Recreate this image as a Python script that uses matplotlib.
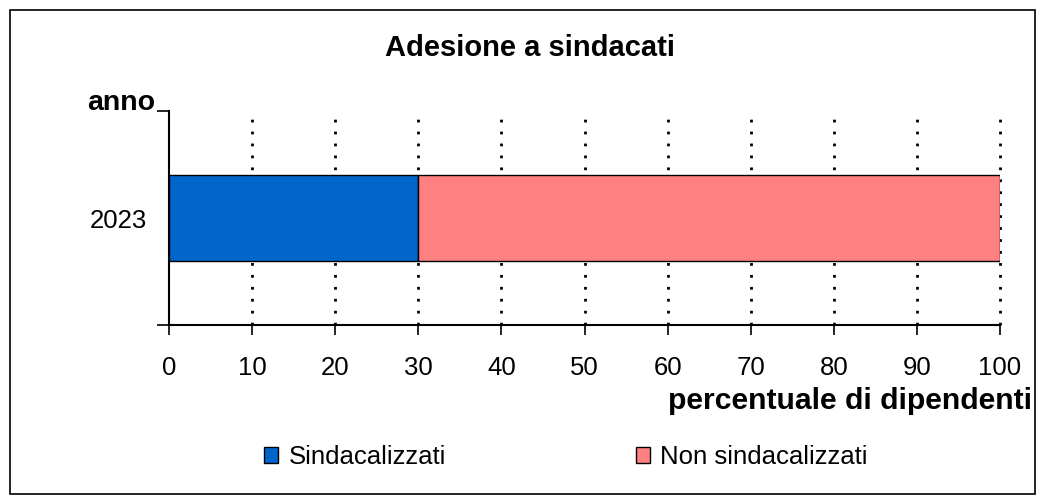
import matplotlib.pyplot as plt
from matplotlib.patches import Rectangle

# data
anni = ["2023"]
sindacalizzati = [30]
non_sindacalizzati = [70]
serie = ["Sindacalizzati", "Non sindacalizzati"]
colori = ["#0066CC", "#FF8080"]
xticks = list(range(0, 101, 10))

plt.rcParams['font.family'] = ['Liberation Sans', 'DejaVu Sans']

fig = plt.figure(figsize=(10.45, 5.04), dpi=100)
ax = fig.add_axes([169 / 1045, 1 - 325 / 504, 831 / 1045, 214 / 504])

# figure frame
fig.patches.append(Rectangle((10 / 1045, 10 / 504), 1025 / 1045, 484 / 504,
                             transform=fig.transFigure, fill=False,
                             edgecolor="black", linewidth=1.2))

ypos = list(range(len(anni)))
ax.barh(ypos, sindacalizzati, height=0.4, color=colori[0],
        edgecolor="black", linewidth=1, label=serie[0], zorder=3)
ax.barh(ypos, non_sindacalizzati, left=sindacalizzati, height=0.4,
        color=colori[1], edgecolor="black", linewidth=1, label=serie[1], zorder=3)

ax.set_xlim(0, 100)
ax.set_ylim(-0.5, len(anni) - 0.5)
ax.set_xticks(xticks)
ax.tick_params(axis="x", labelsize=18.5, length=7, width=1.2, pad=15)

# y ticks at the category borders, labels in the middle
ax.set_yticks([-0.5, 0.5])
ax.set_yticklabels([])
ax.set_yticks(ypos, minor=True)
ax.set_yticklabels(anni, minor=True, fontsize=18.5)
ax.tick_params(axis="y", which="major", length=9, width=1.2)
ax.tick_params(axis="y", which="minor", length=0, pad=16)

for t in xticks[1:]:
    ax.axvline(t, color="black", linestyle=(0, (1, 3.3)), linewidth=2,
               zorder=1, clip_on=False)

for s in ["top", "right"]:
    ax.spines[s].set_visible(False)
for s in ["left", "bottom"]:
    ax.spines[s].set_linewidth(1.5)

fig.text(530 / 1045, 1 - 48 / 504, "Adesione a sindacati", ha="center",
         va="center", fontsize=21, fontweight="bold")
fig.text(155 / 1045, 1 - 103 / 504, "anno", ha="right", va="center",
         fontsize=20.5, fontweight="bold")
fig.text(1032 / 1045, 1 - 401 / 504, "percentuale di dipendenti", ha="right",
         va="center", fontsize=21.7, fontweight="bold")

h, l = ax.get_legend_handles_labels()
fig.legend(h, l, loc="center", bbox_to_anchor=(566 / 1045, 1 - 457 / 504),
           ncol=2, frameon=False, fontsize=18.5, handlelength=0.55,
           handleheight=0.55, handletextpad=0.4, columnspacing=7.4,
           borderpad=0, borderaxespad=0)

fig.savefig("out.png", dpi=100)
